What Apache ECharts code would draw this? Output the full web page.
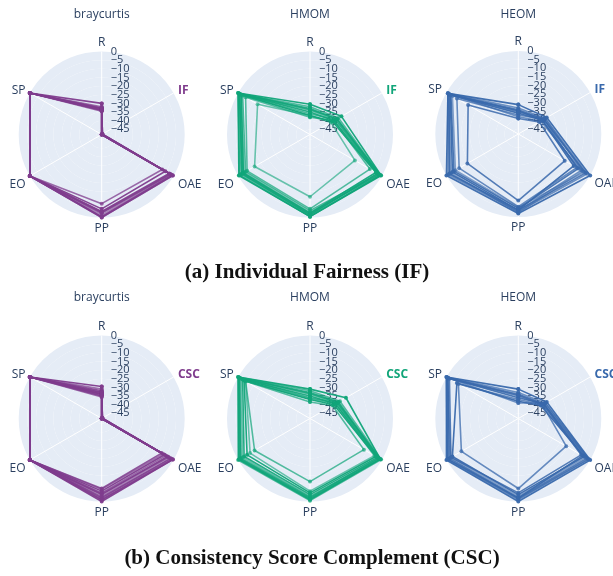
<!DOCTYPE html>
<html><head><meta charset="utf-8">
<script src="https://cdn.jsdelivr.net/npm/echarts@6/dist/echarts.min.js"></script>
<style>html,body{margin:0;padding:0;background:#fff}#c{width:613px;height:576px}</style>
</head><body><div id="c"></div>
<script>
// ---- data ----
const axesIF = ['R', 'IF', 'OAE', 'PP', 'EO', 'SP'];
const axesCSC = ['R', 'CSC', 'OAE', 'PP', 'EO', 'SP'];
const panelTitles = ['braycurtis', 'HMOM', 'HEOM'];
const captionA = '(a) Individual Fairness (IF)';
const captionB = '(b) Consistency Score Complement (CSC)';
const radialMin = -48;
const radialMax = 0;

// each row: [R, IF/CSC, OAE, PP, EO, SP]
const brayIF = [
  [-30, -48, -0.5, 0, 0, 0],
  [-32, -48, -1, -0.5, 0, 0],
  [-33, -47.5, -2, -2.5, 0, 0],
  [-33.5, -48, -1.5, -1.5, 0, 0],
  [-34, -47.5, -3, -3.5, 0, 0],
  [-34.5, -48, -7.5, -8, 0, 0],
  [-33, -48, -5.5, -5, 0, 0],
  [-32.5, -47.5, -1, -0.5, 0, 0],
  [-34, -48, -2.5, -3, 0, 0],
  [-33.5, -48, -0.5, 0, 0, 0]
];
const hmomIF = [
  [-30.5, -27, -0.5, -0.5, -0.5, 0],
  [-32, -29, -1, -1, -2, -0.5],
  [-33, -30, -2, -2, -3, -1],
  [-34, -31, -1.5, -3, -4, -2],
  [-35, -32, -3, -1.5, -2.5, -1],
  [-36, -31, -2.5, -4, -5, -3],
  [-37, -33, -4, -2.5, -3.5, -2],
  [-38, -32, -8, -5, -6, -5],
  [-33.5, -30, -1, -0.5, -1, 0],
  [-37, -34, -18, -12, -11, -13]
];
const heomIF = [
  [-31, -29, 0, -2, 0, -1],
  [-33, -30, -2, -3, -1, -1],
  [-34, -31, -3, -4, -2, -2],
  [-35, -30, -5, -2.5, -3, -1.5],
  [-36, -32, -8, -5, -5, -3],
  [-37, -31, -9, -6, -8.5, -7],
  [-34.5, -32, -11, -4, -4, -2.5],
  [-38, -33, -6, -3.5, -2, -1],
  [-39, -34, -17, -9.5, -14, -14.5],
  [-35.5, -31, -4, -5.5, -6, -4]
];
const brayCSC = [
  [-29.5, -48, -0.5, 0, 0, 0],
  [-31, -48, -1, -1, 0, 0],
  [-32, -47.5, -2, -2, 0, 0],
  [-32.5, -48, -3, -3, 0, 0],
  [-33, -47.5, -4, -4, 0, 0],
  [-33.5, -48, -5, -5, 0, 0],
  [-34, -48, -6, -6, 0, 0],
  [-34.5, -47.5, -7, -7, 0, 0],
  [-35, -48, -8, -7.5, 0, 0],
  [-33, -48, -1.5, -2.5, 0, 0],
  [-34, -48, -0.5, -1, 0, 0],
  [-35.5, -48, -3.5, -4.5, 0, 0]
];
const hmomCSC = [
  [-31, -24, -1, -1, -0.5, 0],
  [-32, -28, -0.5, -0.5, 0, 0],
  [-33, -29, -2, -2, -1.5, -1],
  [-34, -30, -1.5, -3, -3, -2],
  [-35, -31, -3, -4, -4, -3],
  [-36, -30, -2.5, -2.5, -2, -1],
  [-37, -32, -4, -5, -6, -4],
  [-38.5, -33, -12, -11.5, -11, -5],
  [-33.5, -29.5, -1, -1.5, -1, -0.5],
  [-36.5, -31, -5, -6, -8, -5]
];
const heomCSC = [
  [-31, -29, 0, 0, 0, 0],
  [-33, -30, -1, -1, -0.5, 0],
  [-34, -31, -2, -2, -2, -1],
  [-35, -32, -3, -3, -3, -0.5],
  [-36, -31, -5, -2, -1, -1],
  [-37, -32, -16, -7.5, -10, -8],
  [-38, -33, -4, -4, -4, -7],
  [-39, -30, -1, -1.5, -1, -0.5],
  [-34.5, -31.5, -6, -5, -3, -2]
];

// ---- styling / layout ----
const colors = ['rgb(127,60,141)', 'rgb(17,165,121)', 'rgb(57,105,172)'];
const textColor = '#2a3f5f';
const panels = [
  { data: brayIF, axes: axesIF, col: 0, center: [101.7, 134.5] },
  { data: hmomIF, axes: axesIF, col: 1, center: [310, 134.5] },
  { data: heomIF, axes: axesIF, col: 2, center: [518.3, 134] },
  { data: brayCSC, axes: axesCSC, col: 0, center: [101.7, 418.5] },
  { data: hmomCSC, axes: axesCSC, col: 1, center: [310, 418.5] },
  { data: heomCSC, axes: axesCSC, col: 2, center: [518.3, 418.5] }
];
const R = 83;
const FULL = 360;
const N = panels.length;
// label style key per category slot (top, upper-right, lower-right, bottom, lower-left, upper-left)
const slotStyle = ['top', 'hl', 'side', 'side', 'side', 'up'];

const polar = [], angleAxis = [], radiusAxis = [], series = [], graphic = [];
const fmtTick = (v) => String(v).replace('-', '\u2212');
const tickLabelBase = {
  margin: -9, align: 'left', verticalAlign: 'middle',
  fontFamily: 'Open Sans', fontSize: 11, color: textColor, hideOverlap: false
};

panels.forEach((p, i) => {
  const color = colors[p.col];
  const step = FULL / p.axes.length;           // angular slot of each category
  const base = { fontFamily: 'Open Sans', fontSize: 12, color: textColor };
  polar.push({ center: p.center, radius: R });
  angleAxis.push({
    polarIndex: i, type: 'value', min: 0, max: FULL, interval: step,
    startAngle: 90, clockwise: true,
    axisLine: { show: false }, axisTick: { show: false },
    axisLabel: {
      margin: 5, fontFamily: 'Open Sans', fontSize: 12, color: textColor,
      formatter: (v) => {
        const idx = Math.round(v / step);
        const name = p.axes[idx];
        if (!name || v >= FULL) return '';
        return '{' + slotStyle[idx] + '|' + name + '}';
      },
      rich: {
        hl: Object.assign({}, base, { fontWeight: 'bold', color: color, padding: [0, 0, -6, 0] }),
        top: Object.assign({}, base, { padding: [0, 0, -2, 0] }),
        side: Object.assign({}, base),
        up: Object.assign({}, base, { padding: [0, 0, -6, 0] })
      }
    },
    splitLine: { show: true, lineStyle: { color: '#ffffff', width: 1 } },
    z: 1
  });
  radiusAxis.push({
    polarIndex: i, type: 'value', min: radialMin, max: radialMax, splitNumber: 10,
    axisLine: { show: false }, axisTick: { show: false },
    axisLabel: Object.assign({}, tickLabelBase, {
      showMinLabel: false, showMaxLabel: false,
      formatter: (v) => (v === radialMin || v === radialMax ? '' : fmtTick(v))
    }),
    splitLine: { show: true, lineStyle: { color: '#ffffff', width: 1 } },
    splitArea: { show: true, areaStyle: { color: ['#e5ecf6', '#e5ecf6'] } },
    z: 1
  });
  p.data.forEach((row, k) => {
    const pts = row.map((v, j) => [v, j * step]);
    pts.push([row[0], 0]);   // close the polygon back at the first category
    const op = [0.95, 0.7, 0.85, 0.6, 0.9, 0.75][k % 6];
    series.push({
      type: 'line', coordinateSystem: 'polar', polarIndex: i, clip: false,
      data: pts, symbol: 'circle', symbolSize: 4, showSymbol: true, showAllSymbol: true,
      lineStyle: { color: color, width: 1.6, opacity: op },
      itemStyle: { color: color, opacity: op },
      emphasis: { disabled: true }, silent: true, z: 3
    });
  });
  graphic.push({
    type: 'text', x: p.center[0], y: (i < 3 ? 15 : 298),
    style: { text: panelTitles[p.col], fill: textColor, font: '12px "Open Sans"', textAlign: 'center', textVerticalAlign: 'middle' }
  });
});

// overlay polar per panel that carries only the outer "0" radial tick label
panels.forEach((p, i) => {
  polar.push({ center: p.center, radius: R });
  angleAxis.push({
    polarIndex: N + i, type: 'value', min: 0, max: FULL, startAngle: 90, clockwise: true,
    axisLine: { show: false }, axisTick: { show: false }, axisLabel: { show: false },
    splitLine: { show: false }, z: 0
  });
  radiusAxis.push({
    polarIndex: N + i, type: 'value', min: radialMin, max: radialMax, splitNumber: 10,
    axisLine: { show: false }, axisTick: { show: false },
    axisLabel: Object.assign({}, tickLabelBase, {
      showMinLabel: false, showMaxLabel: true,
      formatter: (v) => (v === radialMax ? fmtTick(v) : '')
    }),
    splitLine: { show: false }, splitArea: { show: false }, z: 1
  });
});

graphic.push({
  type: 'text', x: 307, y: 273,
  style: { text: captionA, fill: '#111', font: 'bold 21px "Liberation Serif"', textAlign: 'center', textVerticalAlign: 'middle' }
});
graphic.push({
  type: 'text', x: 312, y: 559,
  style: { text: captionB, fill: '#111', font: 'bold 21px "Liberation Serif"', textAlign: 'center', textVerticalAlign: 'middle' }
});

const chart = echarts.init(document.getElementById('c'), null, { renderer: 'canvas' });
chart.setOption({
  backgroundColor: '#ffffff', animation: false,
  polar, angleAxis, radiusAxis, series, graphic
});
</script>
</body></html>
